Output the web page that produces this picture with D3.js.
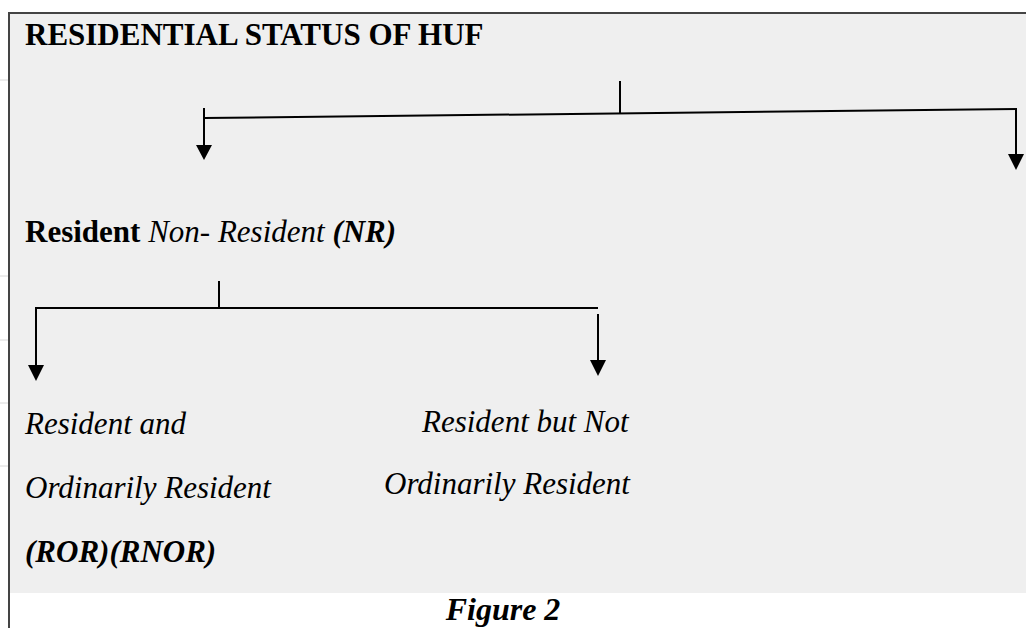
<!DOCTYPE html>
<html>
<head>
<meta charset="utf-8">
<script src="https://cdn.jsdelivr.net/npm/d3@7"></script>
<style>
  html, body { margin: 0; padding: 0; background: #ffffff; }
  svg { display: block; }
  text { font-family: "Liberation Serif", "Times New Roman", serif; fill: #000; }
</style>
</head>
<body>
<div id="chart"></div>
<script>
// diagram content
const titleText = "RESIDENTIAL STATUS OF HUF";
const levelOne = [
    { text: "Resident", weight: "bold", style: "normal" },
    { text: " Non- Resident ", weight: "normal", style: "italic" },
    { text: "(NR)", weight: "bold", style: "italic" }
];
const leftBranch = [
    [{ text: "Resident and", weight: "normal", style: "italic" }],
    [{ text: "Ordinarily Resident", weight: "normal", style: "italic" }],
    [{ text: "(ROR)(RNOR)", weight: "bold", style: "italic" }]
];
const rightBranch = [
    [{ text: "Resident but Not", weight: "normal", style: "italic" }],
    [{ text: "Ordinarily Resident", weight: "normal", style: "italic" }]
];
const captionText = "Figure 2";

// layout
const width = 1026, height = 628;
const box = { left: 9, top: 13, bottom: 593 };
const fontTitle = 31, fontBody = 31;

const svg = d3.select("#chart").append("svg")
    .attr("width", width)
    .attr("height", height);

// grey panel
svg.append("rect")
    .attr("x", box.left)
    .attr("y", box.top)
    .attr("width", width - box.left)
    .attr("height", box.bottom - box.top)
    .attr("fill", "#efefef");

// borders
svg.append("line")
    .attr("x1", box.left).attr("x2", width)
    .attr("y1", box.top).attr("y2", box.top)
    .attr("stroke", "#444").attr("stroke-width", 2);
svg.append("line")
    .attr("x1", box.left).attr("x2", box.left)
    .attr("y1", box.top - 1).attr("y2", height)
    .attr("stroke", "#444").attr("stroke-width", 2);

// faint row marks left of the border
[80, 276, 340, 403, 466].forEach(y => {
    svg.append("line")
        .attr("x1", 0).attr("x2", box.left - 1)
        .attr("y1", y).attr("y2", y)
        .attr("stroke", "#d8d8d8").attr("stroke-width", 1);
});

function writeLine(parts, x, y, size, anchor) {
    const t = svg.append("text")
        .attr("x", x)
        .attr("y", y)
        .attr("text-anchor", anchor || "start")
        .style("font-size", size + "px")
        .attr("xml:space", "preserve");
    t.selectAll("tspan")
        .data(parts)
        .join("tspan")
        .style("font-weight", d => d.weight)
        .style("font-style", d => d.style)
        .text(d => d.text);
    return t;
}

writeLine([{ text: titleText, weight: "bold", style: "normal" }], 25, 45, fontTitle);
writeLine(levelOne, 25, 242, fontBody);

leftBranch.forEach((parts, i) => writeLine(parts, 25, [434, 498, 562][i], fontBody));
writeLine(rightBranch[0], 422, 432, fontBody);
writeLine(rightBranch[1], 384, 494, fontBody);

writeLine([{ text: captionText, weight: "bold", style: "italic" }], 503, 620, 32, "middle");

// connectors
const line = d3.line();
const connectors = [
    [[620, 81], [620, 114]],
    [[204, 118], [1017, 109]],
    [[204, 108], [204, 148]],
    [[1016, 109], [1016, 158]],
    [[219, 281], [219, 308]],
    [[35, 308], [598, 308]],
    [[36, 308], [36, 368]],
    [[598, 314], [598, 363]]
];
svg.selectAll("path.link")
    .data(connectors)
    .join("path")
    .attr("class", "link")
    .attr("d", d => line(d))
    .attr("fill", "none")
    .attr("stroke", "#000")
    .attr("stroke-width", 2);

// arrow heads: [x, top, tip]
const heads = [[204, 145, 160], [1016, 154, 170], [36, 365, 381], [598, 360, 376]];
svg.selectAll("path.head")
    .data(heads)
    .join("path")
    .attr("class", "head")
    .attr("d", d => line([[d[0] - 8, d[1]], [d[0] + 8, d[1]], [d[0], d[2]]]) + "Z")
    .attr("fill", "#000");
</script>
</body>
</html>
